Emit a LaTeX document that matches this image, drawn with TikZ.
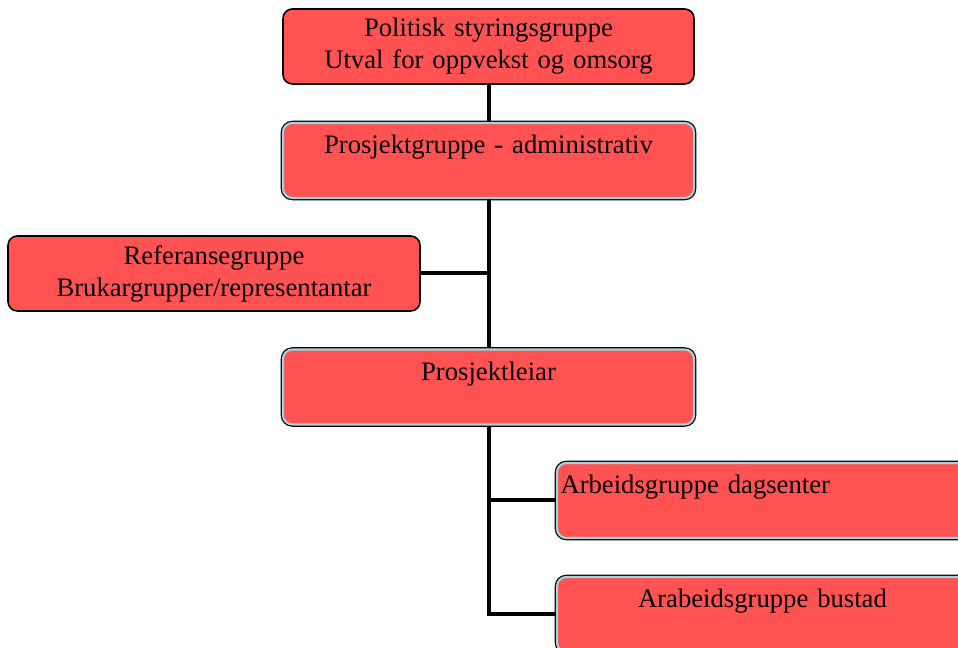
\documentclass[tikz,border=0pt]{standalone}
\usepackage{fontspec}
\setmainfont{Liberation Serif}
\definecolor{boxred}{RGB}{255,82,82}
\definecolor{rimblue}{RGB}{165,212,218}
\begin{document}
\begin{tikzpicture}[x=0.75pt,y=-0.75pt,
  orgbox/.style={rectangle, rounded corners=7pt, fill=boxred, draw=black, line width=1.2pt,
    minimum width=308.25pt, minimum height=56.25pt, inner sep=0pt, text width=300pt,
    align=center, font=\fontsize{20}{24}\selectfont},
  rimbox/.style={orgbox, draw=rimblue, line width=1.6pt,
    preaction={draw=black, line width=3.4pt}},
  conn/.style={draw=black, line width=3pt}]
\useasboundingbox (0,0) rectangle (958,648);
\clip (0,0) rectangle (958,648);
\node[orgbox] (b1) at (488.5,46.5) {Politisk styringsgruppe\\Utval for oppvekst og omsorg};
\node[rimbox] (b2) at (488.5,160.5) {Prosjektgruppe - administrativ\\\mbox{}};
\node[orgbox, minimum width=309pt] (b3) at (214,273.5) {Referansegruppe\\Brukargrupper/representantar};
\node[rimbox] (b4) at (488.5,387) {Prosjektleiar\\\mbox{}};
\node[rimbox, align=left, text width=303pt] (b5) at (762.5,500.5) {Arbeidsgruppe dagsenter\\\mbox{}};
\node[rimbox] (b6) at (762.5,614.5) {Arabeidsgruppe bustad\\\mbox{}};
\draw[conn] (b1.south) -- (b2.north);
\draw[conn] (b2.south) -- (b4.north);
\draw[conn] (b3.east) -- (b3.east -| b2.south);
\draw[conn] (b4.south) |- (b5.west);
\draw[conn] (b4.south) |- (b6.west);
\end{tikzpicture}
\end{document}
